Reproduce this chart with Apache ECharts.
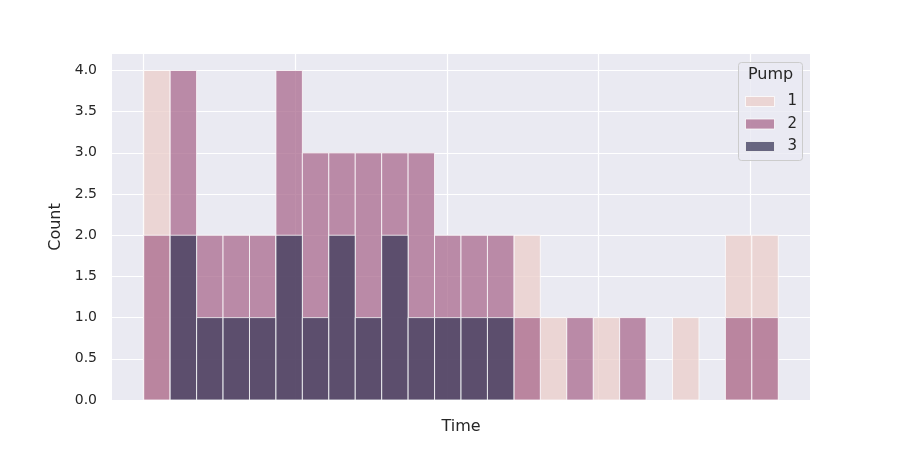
<!DOCTYPE html>
<html>
<head>
<meta charset="utf-8">
<script src="https://cdn.jsdelivr.net/npm/echarts@6/dist/echarts.min.js"></script>
<style>
    html, body { margin: 0; padding: 0; background: #fff; }
    #chart { width: 900px; height: 450px; }
</style>
</head>
<body>
<div id="chart"></div>
<script>
// histogram counts per time bin (24 equal bins), one list per pump
const binCount = 24;
const pumps = ['1', '2', '3'];
const pump1 = [4, 0, 0, 0, 0, 0, 0, 0, 0, 0, 0, 0, 0, 0, 2, 1, 0, 1, 0, 0, 1, 0, 2, 2];
const pump2 = [2, 4, 2, 2, 2, 4, 3, 3, 3, 3, 3, 2, 2, 2, 1, 0, 1, 0, 1, 0, 0, 0, 1, 1];
const pump3 = [0, 2, 1, 1, 1, 2, 1, 2, 1, 2, 1, 1, 1, 1, 0, 0, 0, 0, 0, 0, 0, 0, 0, 0];
// x grid positions (in bin units) of the hidden time ticks
const timeTicks = [0, 5.734, 11.468, 17.202, 22.936];
const yTicks = [0, 0.5, 1, 1.5, 2, 2.5, 3, 3.5, 4];

const colors = ['#ebcdc9', '#a9698d', '#3c3a59'];
const font = 'DejaVu Sans';

const chart = echarts.init(document.getElementById('chart'));

function binData(counts) {
    return counts.map((c, i) => [i, i + 1, c]);
}

function renderBin(params, api) {
    const count = api.value(2);
    if (!count) return null;
    const p0 = api.coord([api.value(0), count]);
    const p1 = api.coord([api.value(1), 0]);
    return {
        type: 'rect',
        shape: { x: p0[0], y: p0[1], width: p1[0] - p0[0], height: p1[1] - p0[1] },
        style: {
            fill: api.visual('color'),
            stroke: '#ffffff',
            lineWidth: 1,
            opacity: 0.75
        }
    };
}

const series = [pump1, pump2, pump3].map((counts, k) => ({
    name: pumps[k],
    type: 'custom',
    renderItem: renderBin,
    encode: { x: [0, 1], y: 2 },
    itemStyle: { color: colors[k] },
    z: 2 + k,
    data: binData(counts)
}));

const option = {
    animation: false,
    grid: {
        left: 112, right: 90, top: 54, bottom: 50,
        show: true,
        backgroundColor: '#eaeaf2',
        borderWidth: 0
    },
    xAxis: {
        type: 'value',
        min: -binCount * 0.05,
        max: binCount * 1.05,
        name: 'Time',
        nameLocation: 'middle',
        nameGap: 19,
        nameTextStyle: { fontFamily: font, fontSize: 16, color: '#262626' },
        axisLine: { show: false },
        axisTick: { show: false, customValues: timeTicks },
        axisLabel: { show: false, customValues: timeTicks },
        splitLine: { show: true, lineStyle: { color: '#ffffff', width: 1.2 } }
    },
    yAxis: {
        type: 'value',
        min: 0,
        max: 4.2,
        name: 'Count',
        nameLocation: 'middle',
        nameGap: 46,
        nameTextStyle: { fontFamily: font, fontSize: 16, color: '#262626' },
        axisLine: { show: false },
        axisTick: { show: false, customValues: yTicks },
        axisLabel: {
            customValues: yTicks,
            margin: 15,
            fontFamily: font,
            fontSize: 14,
            color: '#262626',
            formatter: v => v.toFixed(1)
        },
        splitLine: { show: true, lineStyle: { color: '#ffffff', width: 1.2 } }
    },
    legend: {
        orient: 'vertical',
        left: 740,
        top: 89,
        z: 6,
        icon: 'rect',
        itemWidth: 29,
        itemHeight: 10,
        itemGap: 7.5,
        selectedMode: false,
        data: pumps.map((p, k) => ({
            name: p,
            itemStyle: { color: colors[k], opacity: 0.75, borderColor: '#ffffff', borderWidth: 1 }
        })),
        textStyle: { fontFamily: font, fontSize: 15, color: '#262626', padding: [0, 0, 0, 8] }
    },
    graphic: [
        {
            type: 'rect',
            z: 5,
            shape: { x: 738.5, y: 62.5, width: 64, height: 98, r: 3 },
            style: { fill: 'rgba(234,234,242,0.8)', stroke: '#cccccc', lineWidth: 1 }
        },
        {
            type: 'text',
            z: 6,
            x: 770.5,
            y: 75,
            style: {
                text: 'Pump',
                fontFamily: font,
                fontSize: 16,
                fill: '#262626',
                align: 'center',
                verticalAlign: 'middle'
            }
        }
    ],
    series: series
};

chart.setOption(option);
</script>
</body>
</html>
